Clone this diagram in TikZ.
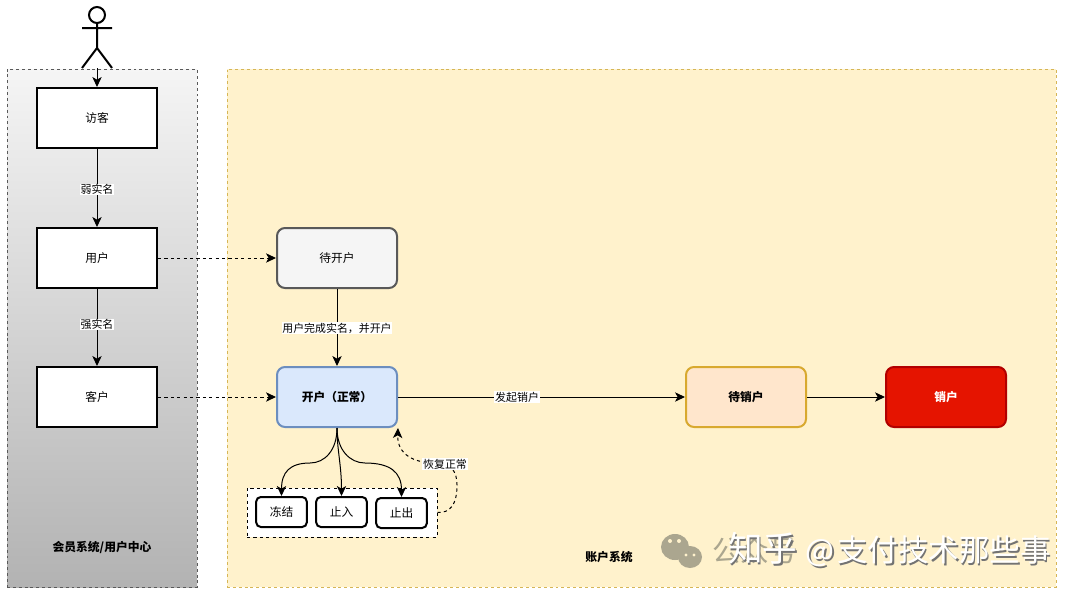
\documentclass[tikz,border=0pt]{standalone}
\usepackage{fontspec}
\setmainfont{Noto Sans CJK SC}
\usetikzlibrary{arrows.meta, positioning, shadings}
\definecolor{panelyellow}{HTML}{FFF2CC}
\definecolor{paneledge}{HTML}{D6B656}
\definecolor{bluefill}{HTML}{DAE8FC}
\definecolor{blueedge}{HTML}{6C8EBF}
\definecolor{orangefill}{HTML}{FFE6CC}
\definecolor{orangeedge}{HTML}{D8A92F}
\definecolor{redfill}{HTML}{E51400}
\definecolor{rededge}{HTML}{B20000}
\definecolor{markgray}{HTML}{ABA68F}
\tikzset{
  link/.style={-{Stealth[length=7.5pt,width=7pt,inset=2pt]}, line width=0.75pt},
  dashlink/.style={link, dash pattern=on 2.4pt off 2.4pt},
  linklabel/.style={fill=white, inner sep=0.6pt, font=\fontsize{8.2pt}{10pt}\selectfont},
  member/.style={draw, line width=1.5pt, fill=white, minimum width=90pt, minimum height=45pt,
    inner sep=0pt, font=\fontsize{8.8pt}{10pt}\selectfont},
  stage/.style={member, rounded corners=6pt},
  boldstage/.style={stage, font=\bfseries\fontsize{8.8pt}{10pt}\selectfont},
  tiny stage/.style={draw, line width=1.5pt, fill=white, rounded corners=3.5pt, minimum width=38pt,
    minimum height=22.5pt, inner sep=0pt, font=\fontsize{8.8pt}{10pt}\selectfont},
  panel/.style={draw, dash pattern=on 2.2pt off 2.2pt, line width=0.4pt, inner sep=0pt},
  panellabel/.style={font=\bfseries\fontsize{8.85pt}{10pt}\selectfont, inner sep=0pt},
}
\begin{document}
\begin{tikzpicture}[x=0.75pt, y=-0.75pt]
  \useasboundingbox (0,0) rectangle (1080,596);
  % panels
  \node[panel, draw=black!65, top color=black!4, bottom color=black!30, minimum width=142.5pt,
    minimum height=388.5pt] (memberpanel) at (102,328) {};
  \node[panel, draw=paneledge, fill=panelyellow, minimum width=621.75pt,
    minimum height=388.5pt] (accountpanel) at (641.5,328) {};
  \node[panellabel] (memberlabel) at (102,547) {会员系统/用户中心};
  \node[panellabel] (accountlabel) at (609,557) {账户系统};

  % actor
  \draw[line width=1.5pt] (97,15) circle (8);
  \draw[line width=1.5pt] (97,23) -- (97,48) (82,28) -- (112,28) (82,68) -- (97,48) -- (112,68);
  \coordinate (actor) at (97,68);

  % member side
  \node[member] (visitor) at (97,118) {访客};
  \node[member] (user) at (97,258) {用户};
  \node[member] (customer) at (97,397) {客户};
  \draw[link] (actor) -- (visitor);
  \draw[link] (visitor) -- node[linklabel, pos=0.52] (weak) {弱实名} (user);
  \draw[link] (user) -- node[linklabel, pos=0.46] (strong) {强实名} (customer);

  % account side
  \node[stage, draw=black!65, fill=black!4] (pending) at (337,258) {待开户};
  \node[boldstage, draw=blueedge, fill=bluefill] (opened) at (337,397) {开户（正常）};
  \node[boldstage, draw=orangeedge, fill=orangefill] (closing) at (746,397) {待销户};
  \node[boldstage, draw=rededge, fill=redfill, text=white] (closed) at (946,397) {销户};

  \draw[dashlink] (user) -- (pending);
  \draw[dashlink] (customer) -- (opened);
  \draw[link] (pending) -- node[linklabel, pos=0.51] (realname) {用户完成实名，并开户} (opened);
  \draw[link] (opened) -- node[linklabel, pos=0.415] (startclose) {发起销户} (closing);
  \draw[link] (closing) -- (closed);

  % limits
  \node[draw, dash pattern=on 2.4pt off 2.4pt, line width=0.75pt, fill=white, minimum width=142.5pt,
    minimum height=36.75pt, inner sep=0pt] (limits) at (342,512.5) {};
  \node[tiny stage] (freeze) at (281.5,512) {冻结};
  \node[tiny stage] (noin) at (341.5,512) {止入};
  \node[tiny stage] (noout) at (401.5,513) {止出};
  \draw[link] (opened.south) .. controls (337,450) and (325,463) .. (310,463)
    .. controls (290,463) and (281.5,472) .. (freeze.north);
  \draw[link] (opened.south) .. controls (337,450) and (341.5,465) .. (noin.north);
  \draw[link] (opened.south) .. controls (337,450) and (350,463) .. (365,463)
    .. controls (390,463) and (401.5,472) .. (noout.north);
  \draw[dashlink] (limits.east) .. controls (450,513) and (457,505) .. (457,485)
    .. controls (457,470) and (450,463) .. (435,463)
    .. controls (415,463) and (397,455) .. (opened.south east);
  \node[linklabel] (recover) at (445,464) {恢复正常};

  % watermark
  \fill[markgray] (675,547) ellipse (14 and 13);
  \fill[markgray] (690,557) ellipse (12 and 11);
  \fill[panelyellow] (670,541) circle (2) (679,541) circle (2) (686,555) circle (1.6) (694,555) circle (1.6);
  \node[inner sep=0pt, text=markgray, font=\fontsize{21.5pt}{26pt}\selectfont] (markbelow) at (755,551) {公众号};
  \node[inner sep=0pt, anchor=west, text=black!55, font=\fontsize{22.9pt}{28pt}\selectfont] (markshadow) at (729.5,551.5)
    {{\fontsize{26pt}{28pt}\selectfont 知乎}\hspace{6pt}@\hspace{2pt}支付技术那些事};
  \node[inner sep=0pt, anchor=west, text=white, font=\fontsize{22.9pt}{28pt}\selectfont] (markfront) at (728,550)
    {{\fontsize{26pt}{28pt}\selectfont 知乎}\hspace{6pt}@\hspace{2pt}支付技术那些事};
\end{tikzpicture}
\end{document}
